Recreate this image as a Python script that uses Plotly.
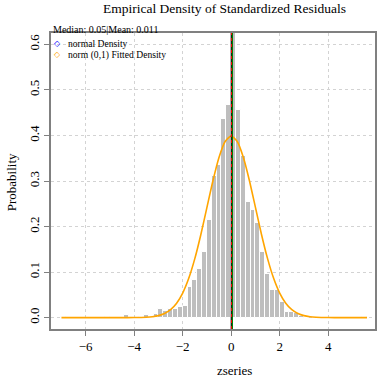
import plotly.graph_objects as go

# ---- data ----
bin_width = 0.2
bin_centers = [-6.9, -5.1, -4.3, -3.7, -3.5, -3.3, -3.1, -2.9, -2.7, -2.5, -2.3, -2.1, -1.9,
               -1.7, -1.5, -1.3, -1.1, -0.9, -0.7, -0.5, -0.3, -0.1,
               0.1, 0.3, 0.5, 0.7, 0.9, 1.1, 1.3, 1.5, 1.7, 1.9,
               2.1, 2.3, 2.5, 2.7, 2.9, 3.1, 5.5]
density = [0.002, 0.002, 0.006, 0.002, 0.005, 0.002, 0.009, 0.018, 0.014, 0.020, 0.018, 0.023, 0.025,
           0.067, 0.082, 0.106, 0.145, 0.214, 0.310, 0.335, 0.437, 0.466,
           0.650, 0.456, 0.356, 0.254, 0.236, 0.208, 0.145, 0.096, 0.060, 0.061,
           0.035, 0.012, 0.012, 0.010, 0.004, 0.002, 0.002]

curve_x = [-7.0, -4.5, -4.0, -3.5, -3.25, -3.0, -2.75, -2.5, -2.25, -2.0, -1.75, -1.5, -1.25, -1.0,
           -0.75, -0.5, -0.25, 0.0, 0.25, 0.5, 0.75, 1.0, 1.25, 1.5, 1.75, 2.0, 2.25,
           2.5, 2.75, 3.0, 3.25, 3.5, 4.0, 4.5, 5.6]
curve_y = [0.0, 0.0, 0.0001, 0.0009, 0.0020, 0.0044, 0.0091, 0.0175, 0.0317, 0.0540, 0.0863,
           0.1295, 0.1826, 0.2420, 0.3011, 0.3521, 0.3867, 0.3989, 0.3867, 0.3521, 0.3011,
           0.2420, 0.1826, 0.1295, 0.0863, 0.0540, 0.0317, 0.0175, 0.0091, 0.0044, 0.0020,
           0.0009, 0.0001, 0.0, 0.0]

median_val = 0.05
mean_val = 0.011

x_ticks = [-6, -4, -2, 0, 2, 4]
y_ticks = [0.0, 0.1, 0.2, 0.3, 0.4, 0.5, 0.6]
y_tick_text = ["0.0", "0.1", "0.2", "0.3", "0.4", "0.5", "0.6"]

title_text = "Empirical Density of Standardized Residuals"
subtitle_text = "Median: 0.05|Mean: 0.011"
legend_labels = ["normal Density", "norm (0,1) Fitted Density"]
legend_colors = ["#0000FF", "#FFA500"]

SERIF = "Liberation Serif, Times New Roman, serif"

fig = go.Figure()
fig.add_trace(go.Bar(x=bin_centers, y=density, width=[bin_width] * len(bin_centers),
                     marker=dict(color="#BEBEBE", line=dict(color="white", width=1)),
                     showlegend=False, hoverinfo="skip"))
fig.add_trace(go.Scatter(x=curve_x, y=curve_y, mode="lines",
                         line=dict(color="#FFA500", width=1.6, shape="spline", smoothing=0.6),
                         showlegend=False))

# centre lines
fig.add_shape(type="line", x0=mean_val, x1=mean_val, y0=0, y1=1, yref="paper",
              line=dict(color="#1a1a1a", width=1.6))
fig.add_shape(type="line", x0=median_val, x1=median_val, y0=0, y1=1, yref="paper",
              line=dict(color="#008000", width=1.2))
fig.add_shape(type="line", x0=mean_val, x1=mean_val, y0=0, y1=1, yref="paper",
              line=dict(color="#FF0000", width=1, dash="dot"))

ann = []
ann.append(dict(text=title_text, x=0.535, y=1.084, xref="paper", yref="paper",
                xanchor="center", yanchor="middle", showarrow=False,
                font=dict(family=SERIF, size=13.5, color="black")))
ann.append(dict(text=subtitle_text, x=0.0, y=1.012, xref="paper", yref="paper",
                xanchor="left", yanchor="middle", showarrow=False,
                font=dict(family=SERIF, size=10, color="black")))
ann.append(dict(text="Probability", x=-0.1227, y=0.4966, xref="paper", yref="paper",
                xanchor="center", yanchor="middle", textangle=-90, showarrow=False,
                font=dict(family=SERIF, size=13, color="black")))
ann.append(dict(text="zseries", x=0.566, y=-0.139, xref="paper", yref="paper",
                xanchor="center", yanchor="middle", showarrow=False,
                font=dict(family=SERIF, size=13, color="black")))
for i, (lab, col) in enumerate(zip(legend_labels, legend_colors)):
    yy = 0.9645 - i * 0.0372
    ann.append(dict(text="◇", x=0.0215, y=yy, xref="paper", yref="paper",
                    xanchor="center", yanchor="middle", showarrow=False,
                    font=dict(family="DejaVu Sans", size=8, color=col)))
    ann.append(dict(text=lab, x=0.045, y=yy, xref="paper", yref="paper",
                    xanchor="left", yanchor="middle", showarrow=False,
                    font=dict(family=SERIF, size=9.6, color="black")))

fig.update_layout(
    width=382, height=381,
    margin=dict(l=51, r=5, t=33, b=52),
    paper_bgcolor="white", plot_bgcolor="white",
    bargap=0, showlegend=False,
    font=dict(family=SERIF, size=13, color="black"),
    annotations=ann,
    xaxis=dict(range=[-7.43, 5.93], tickvals=x_ticks, showgrid=True,
               gridcolor="#D3D3D3", griddash="dot", gridwidth=1,
               ticks="outside", ticklen=5, tickcolor="#808080", tickwidth=1,
               showline=True, mirror=True, linecolor="#808080", linewidth=1.5,
               zeroline=False, tickfont=dict(family=SERIF, size=13)),
    yaxis=dict(range=[-0.025, 0.625], tickvals=y_ticks, ticktext=y_tick_text,
               tickangle=-90, showgrid=True,
               gridcolor="#D3D3D3", griddash="dot", gridwidth=1,
               ticks="outside", ticklen=5, tickcolor="#808080", tickwidth=1,
               showline=True, mirror=True, linecolor="#808080", linewidth=1.5,
               zeroline=False, tickfont=dict(family=SERIF, size=13)),
)

fig.write_html("out.html", config={"displayModeBar": False},
               post_script="document.body.style.margin='0px';")
